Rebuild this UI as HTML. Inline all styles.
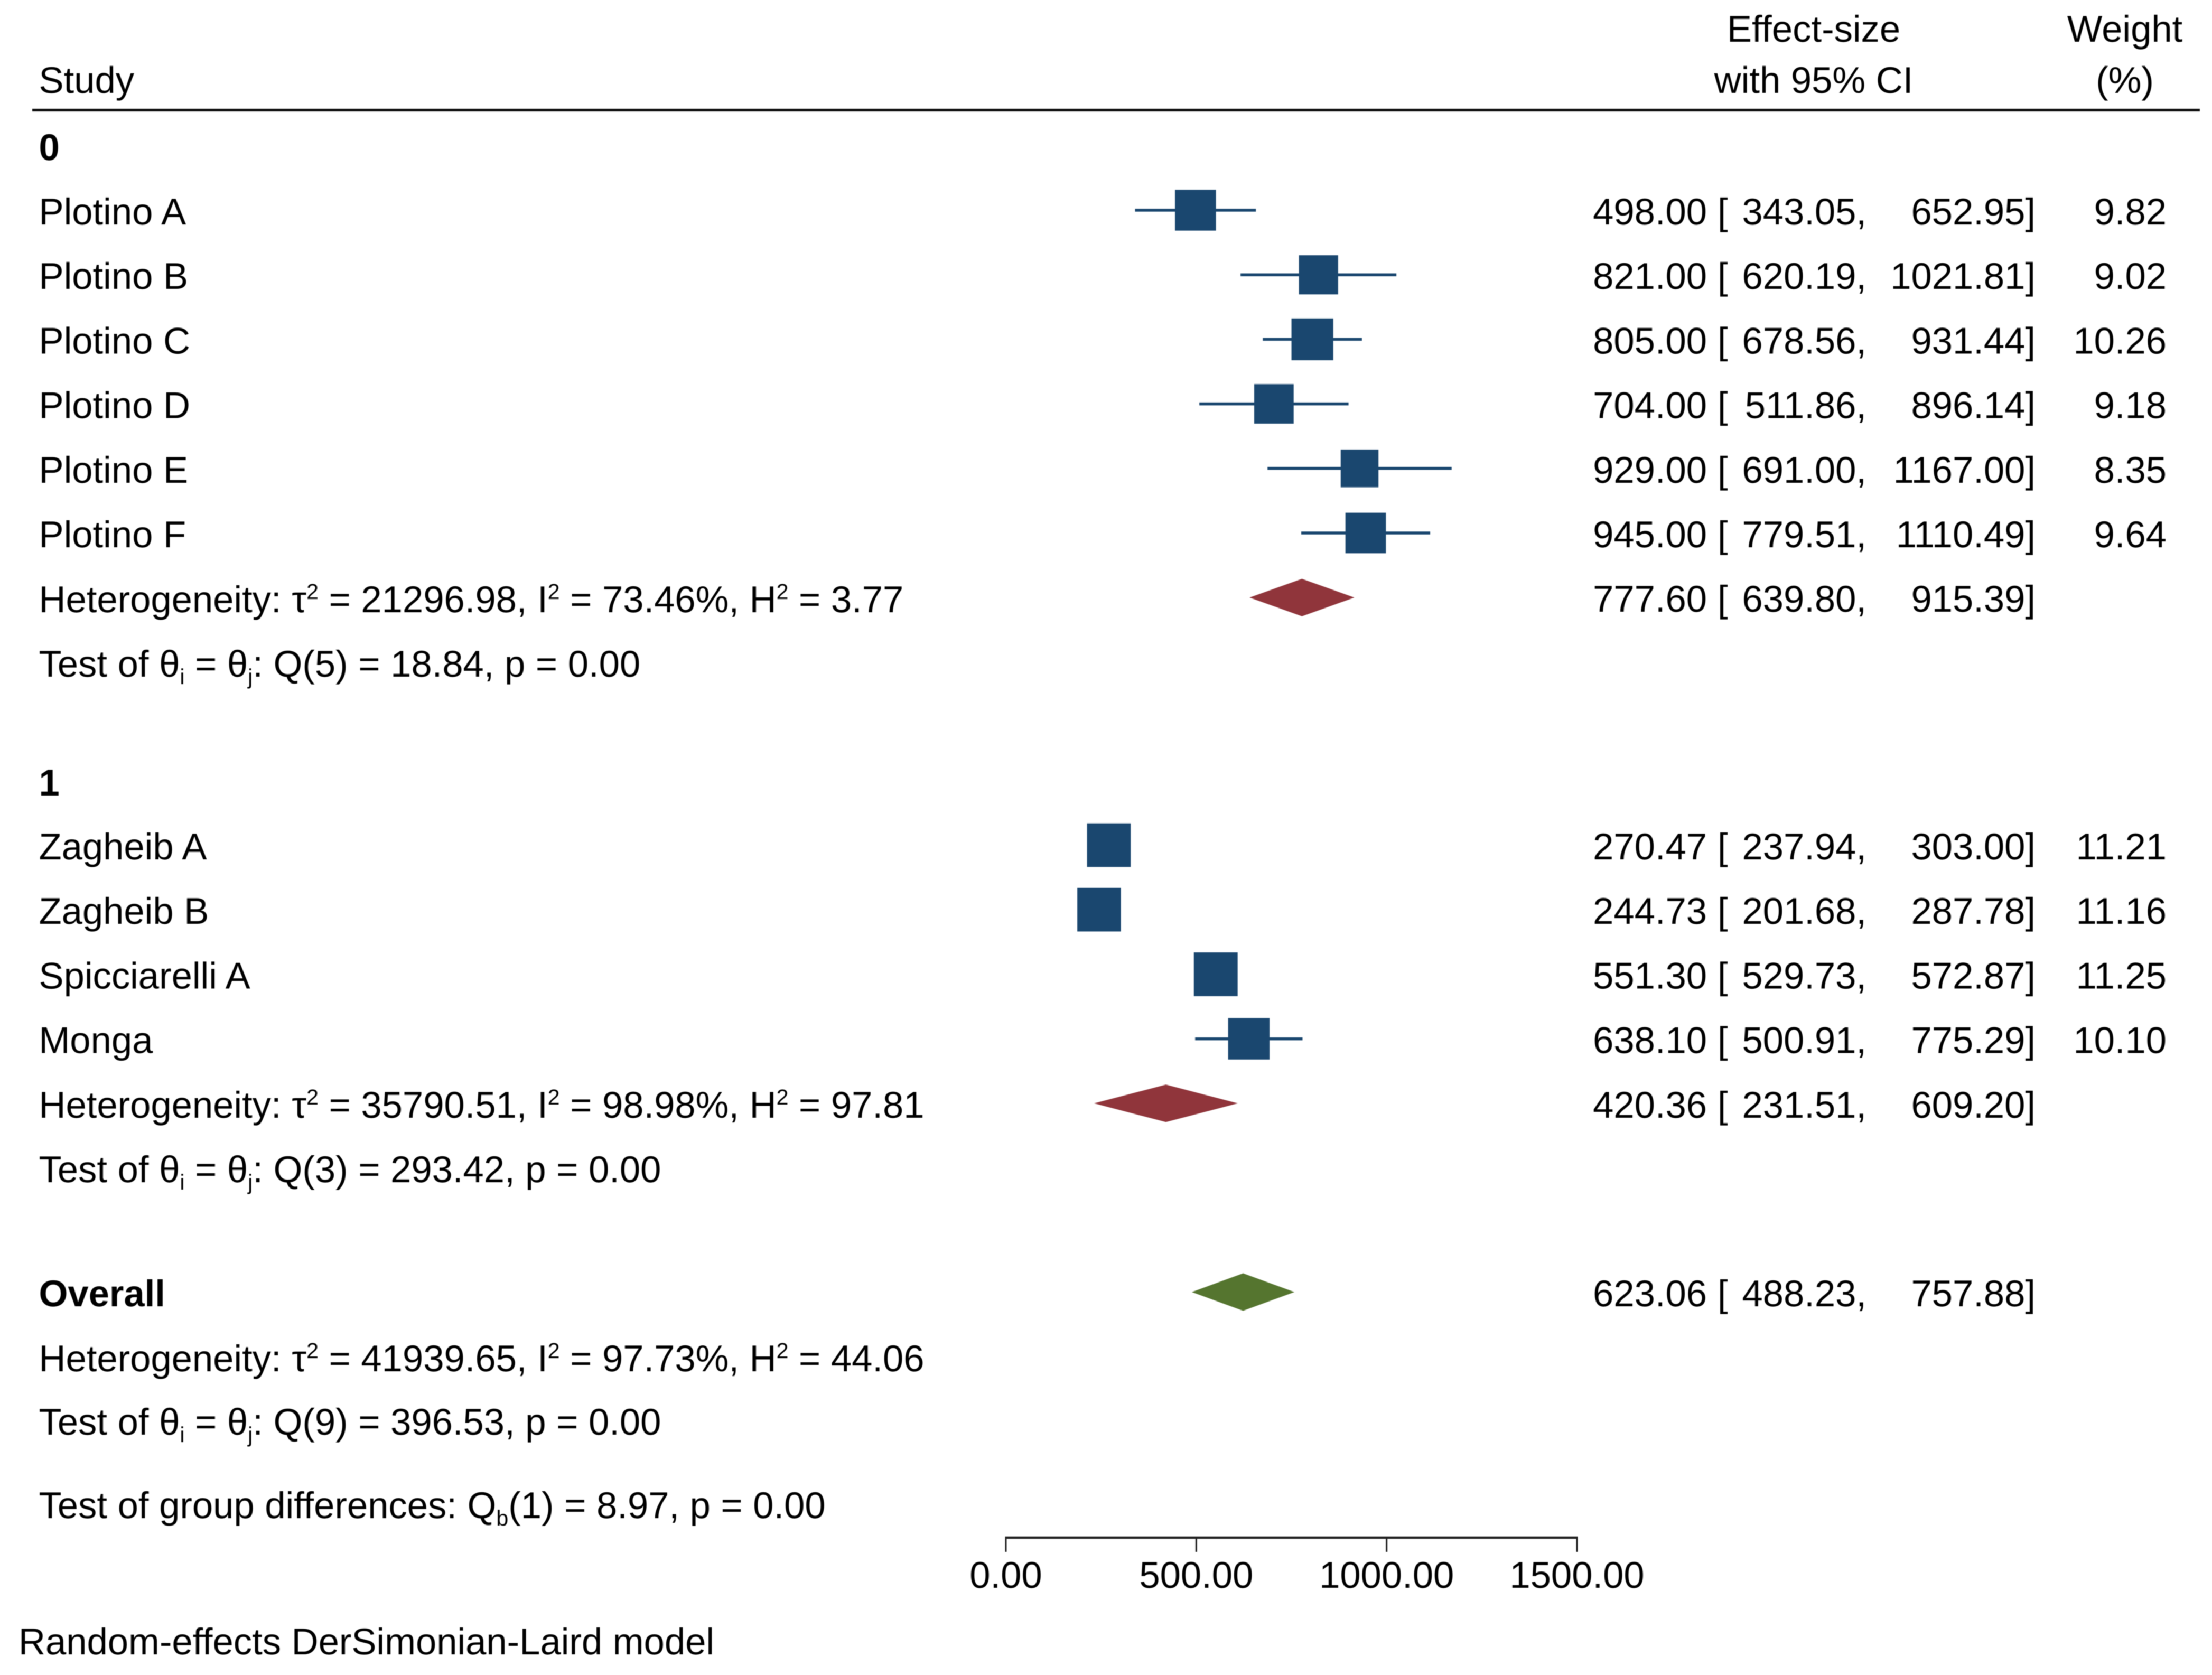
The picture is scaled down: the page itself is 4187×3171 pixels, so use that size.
<!DOCTYPE html>
<html lang="en">
<head>
<meta charset="utf-8">
<title>Forest plot: random-effects DerSimonian-Laird model</title>
<style>
  html, body { margin: 0; padding: 0; background: #fff; }
  svg { display: block; filter: blur(0.8px); }
  text { font-family: "Liberation Sans", Arial, sans-serif; font-size: 70.6px; fill: #000; text-rendering: geometricPrecision; }
  .b { font-weight: bold; }
  .m { text-anchor: middle; }
  .e { text-anchor: end; }
</style>
</head>
<body>
<svg id="chart" xmlns="http://www.w3.org/2000/svg" width="4187" height="3171" viewBox="0 0 4187 3171">
  <rect x="0" y="0" width="4187" height="3171" fill="#ffffff"/>

  <text x="73.5" y="176">Study</text>
  <text x="3433" y="79" class="m">Effect-size</text>
  <text x="3433" y="176" class="m">with 95% CI</text>
  <text x="4022" y="79" class="m">Weight</text>
  <text x="4022" y="176" class="m">(%)</text>
  <rect x="61" y="206" width="4103" height="5" fill="#111111"/>

  <text x="73.5" y="303" class="b">0</text>
  <text x="73.5" y="1159">Heterogeneity: τ<tspan font-size="41" dy="-25">2</tspan><tspan dy="25"> = 21296.98, I</tspan><tspan font-size="41" dy="-25">2</tspan><tspan dy="25"> = 73.46%, H</tspan><tspan font-size="41" dy="-25">2</tspan><tspan dy="25"> = 3.77</tspan></text>
  <text x="73.5" y="1281">Test of θ<tspan font-size="41" dy="14">i</tspan><tspan dy="-14"> = θ</tspan><tspan font-size="41" dy="14">j</tspan><tspan dy="-14">: Q(5) = 18.84, p = 0.00</tspan></text>

  <text x="73.5" y="1506" class="b">1</text>
  <text x="73.5" y="2116">Heterogeneity: τ<tspan font-size="41" dy="-25">2</tspan><tspan dy="25"> = 35790.51, I</tspan><tspan font-size="41" dy="-25">2</tspan><tspan dy="25"> = 98.98%, H</tspan><tspan font-size="41" dy="-25">2</tspan><tspan dy="25"> = 97.81</tspan></text>
  <text x="73.5" y="2238">Test of θ<tspan font-size="41" dy="14">i</tspan><tspan dy="-14"> = θ</tspan><tspan font-size="41" dy="14">j</tspan><tspan dy="-14">: Q(3) = 293.42, p = 0.00</tspan></text>

  <text x="73.5" y="2473" class="b">Overall</text>
  <text x="73.5" y="2596">Heterogeneity: τ<tspan font-size="41" dy="-25">2</tspan><tspan dy="25"> = 41939.65, I</tspan><tspan font-size="41" dy="-25">2</tspan><tspan dy="25"> = 97.73%, H</tspan><tspan font-size="41" dy="-25">2</tspan><tspan dy="25"> = 44.06</tspan></text>
  <text x="73.5" y="2716">Test of θ<tspan font-size="41" dy="14">i</tspan><tspan dy="-14"> = θ</tspan><tspan font-size="41" dy="14">j</tspan><tspan dy="-14">: Q(9) = 396.53, p = 0.00</tspan></text>
  <text x="73.5" y="2874">Test of group differences: Q<tspan font-size="41" dy="14">b</tspan><tspan dy="-14">(1) = 8.97, p = 0.00</tspan></text>

  <text x="35" y="3132">Random-effects DerSimonian-Laird model</text>

  <g id="marks"></g>
  <g id="columns"></g>
  <g id="axis"></g>
</svg>

<script>
// Study-level data
const studyNames = ['Plotino A', 'Plotino B', 'Plotino C', 'Plotino D', 'Plotino E', 'Plotino F', 'Zagheib A', 'Zagheib B', 'Spicciarelli A', 'Monga'];
const studyGroups = [0, 0, 0, 0, 0, 0, 1, 1, 1, 1];
const studyEffects = [498.00, 821.00, 805.00, 704.00, 929.00, 945.00, 270.47, 244.73, 551.30, 638.10];
const studyLower = [343.05, 620.19, 678.56, 511.86, 691.00, 779.51, 237.94, 201.68, 529.73, 500.91];
const studyUpper = [652.95, 1021.81, 931.44, 896.14, 1167.00, 1110.49, 303.00, 287.78, 572.87, 775.29];
const studyWeights = [9.82, 9.02, 10.26, 9.18, 8.35, 9.64, 11.21, 11.16, 11.25, 10.10];

// Pooled estimates: group 0, group 1, overall
const pooledNames = ['group-0', 'group-1', 'overall'];
const pooledEffects = [777.60, 420.36, 623.06];
const pooledLower = [639.80, 231.51, 488.23];
const pooledUpper = [915.39, 609.20, 757.88];
const pooledColors = ['#90353b', '#90353b', '#55752f'];

// Axis ticks
const axisTicks = [0, 500, 1000, 1500];

const SVG_NS = 'http://www.w3.org/2000/svg';
const marks = document.getElementById('marks');
const columns = document.getElementById('columns');
const axis = document.getElementById('axis');

const BLUE = '#1a476f';
const X_ZERO = 1904;
const X_SCALE = (2985 - 1904) / 1500;
const AXIS_Y = 2911;
const TICK_BOTTOM = 2938;
const TICK_LABEL_Y = 3006;
const BASELINE_OFFSET = 27;

function xScale(value) {
  return X_ZERO + value * X_SCALE;
}

function studyRowY(index) {
  const group = studyGroups[index];
  const firstIndex = studyGroups.indexOf(group);
  const top = group === 0 ? 398 : 1600;
  return top + (index - firstIndex) * 122.2;
}

function pooledRowY(index) {
  if (index === 2) return 2446;
  const group = index;
  const count = studyGroups.filter(function (g) { return g === group; }).length;
  const top = group === 0 ? 398 : 1600;
  return top + count * 122.2;
}

function make(tag, parent) {
  const node = document.createElementNS(SVG_NS, tag);
  parent.appendChild(node);
  return node;
}

function setAttrs(node, attrs) {
  Object.keys(attrs).forEach(function (key) {
    node.setAttribute(key, attrs[key]);
  });
}

function fmt(value) {
  return value.toFixed(2);
}

function drawIntervalText(label, effect, lower, upper, y) {
  const effectText = make('text', columns);
  setAttrs(effectText, { x: 3231, y: y, 'text-anchor': 'end' });
  effectText.textContent = fmt(effect);
  
  

  const bracketOpen = make('text', columns);
  setAttrs(bracketOpen, { x: 3251, y: y });
  bracketOpen.textContent = '[';
  
  

  const lowerText = make('text', columns);
  setAttrs(lowerText, { x: 3533, y: y, 'text-anchor': 'end' });
  lowerText.textContent = fmt(lower) + ',';
  
  

  const upperText = make('text', columns);
  setAttrs(upperText, { x: 3853, y: y, 'text-anchor': 'end' });
  upperText.textContent = fmt(upper) + ']';
  
  
}

// Study rows: label, CI line, weighted square, printed values
studyNames.forEach(function (name, i) {
  const y = studyRowY(i);
  const slug = name.toLowerCase().replace(/\s+/g, '-');

  const label = make('text', columns);
  setAttrs(label, { x: 73.5, y: y + BASELINE_OFFSET });
  label.textContent = name;
  
  

  const ciLine = make('line', marks);
  setAttrs(ciLine, {
    x1: xScale(studyLower[i]), x2: xScale(studyUpper[i]),
    y1: y, y2: y, stroke: BLUE, 'stroke-width': 5.5, 'stroke-linecap': 'square'
  });
  
  

  const side = 24.7 * Math.sqrt(studyWeights[i]);
  const square = make('rect', marks);
  setAttrs(square, {
    x: xScale(studyEffects[i]) - side / 2, y: y - side / 2,
    width: side, height: side, fill: BLUE
  });
  
  

  drawIntervalText(slug, studyEffects[i], studyLower[i], studyUpper[i], y + BASELINE_OFFSET);

  const weightText = make('text', columns);
  setAttrs(weightText, { x: 4101, y: y + BASELINE_OFFSET, 'text-anchor': 'end' });
  weightText.textContent = fmt(studyWeights[i]);
  
  
});

// Pooled diamonds and printed values
pooledNames.forEach(function (name, i) {
  const y = pooledRowY(i);
  const halfHeight = 35.5;
  const left = xScale(pooledLower[i]);
  const right = xScale(pooledUpper[i]);
  const centre = xScale(pooledEffects[i]);

  const diamond = make('polygon', marks);
  setAttrs(diamond, {
    points: [left + ',' + y, centre + ',' + (y - halfHeight), right + ',' + y, centre + ',' + (y + halfHeight)].join(' '),
    fill: pooledColors[i]
  });
  
  

  drawIntervalText(name, pooledEffects[i], pooledLower[i], pooledUpper[i], y + BASELINE_OFFSET);
});

// Axis line, ticks and tick labels
const axisLine = make('line', axis);
setAttrs(axisLine, {
  x1: xScale(axisTicks[0]) - 1.5, x2: xScale(axisTicks[axisTicks.length - 1]) + 1.5,
  y1: AXIS_Y, y2: AXIS_Y, stroke: '#222222', 'stroke-width': 4.5
});



axisTicks.forEach(function (tick) {
  const mark = make('line', axis);
  setAttrs(mark, {
    x1: xScale(tick), x2: xScale(tick),
    y1: AXIS_Y, y2: TICK_BOTTOM, stroke: '#222222', 'stroke-width': 3
  });
  
  

  const tickLabel = make('text', axis);
  setAttrs(tickLabel, { x: xScale(tick), y: TICK_LABEL_Y, 'text-anchor': 'middle' });
  tickLabel.textContent = fmt(tick);
  
  
});
</script>
</body>
</html>
